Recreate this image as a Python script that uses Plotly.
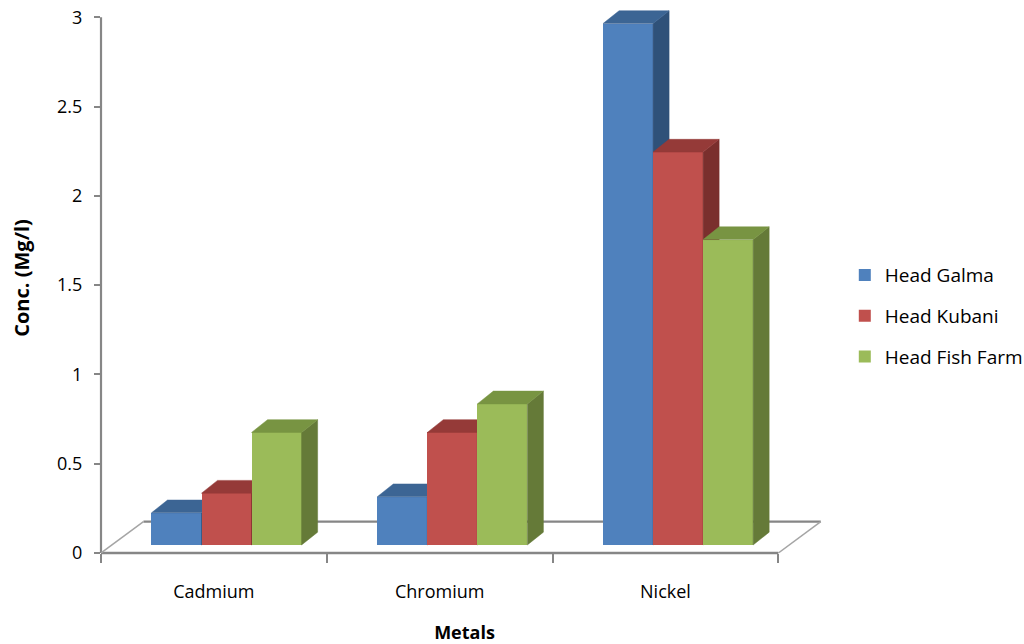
import plotly.graph_objects as go

# ---- data -------------------------------------------------------------
metals = ["Cadmium", "Chromium", "Nickel"]
series_names = ["Head Galma", "Head Kubani", "Head Fish Farm"]
head_galma = [0.18, 0.27, 2.92]
head_kubani = [0.29, 0.63, 2.20]
head_fish_farm = [0.63, 0.79, 1.71]
y_tick_values = [0, 0.5, 1, 1.5, 2, 2.5, 3]
y_tick_labels = ["0", "0.5", "1", "1.5", "2", "2.5", "3"]

series_values = [head_galma, head_kubani, head_fish_farm]

# ---- styling ----------------------------------------------------------
front_colors = ["#4F81BD", "#C0504D", "#9BBB59"]
top_colors = ["#3C6594", "#953A38", "#789442"]
side_colors = ["#2F5179", "#7A2F2D", "#657A38"]
AXIS_GREY = "#868686"
FONT = "Open Sans"

# pseudo-3D geometry, expressed in axis units
X_RANGE = [-0.5, 2.72]
Y_RANGE = [0, 3.08]
FLOOR_LEFT, FLOOR_RIGHT = -0.5, 2.5
FLOOR_DX, FLOOR_DY = 0.188, 0.176      # depth of the floor
BAR_W = 0.2216                         # width of one column
BAR_SHIFT, BAR_LIFT = 0.056, 0.045     # columns stand a little behind the front edge
DEPTH_DX, DEPTH_DY = 0.071, 0.0716     # depth of a column

x_pos = list(range(len(metals)))

fig = go.Figure()


def column_faces(values, offset):
    """Top and right-side faces for one series, as closed polygons."""
    tx, ty, sx, sy = [], [], [], []
    for xc, v in zip(x_pos, values):
        xl = xc + offset
        xr = xl + BAR_W
        yb = BAR_LIFT
        yt = BAR_LIFT + v
        tx += [xl, xr, xr + DEPTH_DX, xl + DEPTH_DX, xl, None]
        ty += [yt, yt, yt + DEPTH_DY, yt + DEPTH_DY, yt, None]
        sx += [xr, xr + DEPTH_DX, xr + DEPTH_DX, xr, xr, None]
        sy += [yb, yb + DEPTH_DY, yt + DEPTH_DY, yt, yb, None]
    return tx, ty, sx, sy


# each series lives on its own overlaid axis pair so that the columns
# further right are painted over the ones to their left
for s, (name, values) in enumerate(zip(series_names, series_values)):
    xa = "x" if s == 0 else f"x{s + 1}"
    ya = "y" if s == 0 else f"y{s + 1}"
    offset = -1.5 * BAR_W + s * BAR_W + BAR_SHIFT

    fig.add_trace(go.Bar(
        x=x_pos, y=values, base=BAR_LIFT, width=BAR_W, offset=offset,
        name=name, legendgroup=name,
        marker=dict(color=front_colors[s], line=dict(width=0)),
        xaxis=xa, yaxis=ya, hoverinfo="skip",
    ))
    tx, ty, sx, sy = column_faces(values, offset)
    fig.add_trace(go.Scatter(
        x=sx, y=sy, mode="lines", fill="toself",
        fillcolor=side_colors[s], line=dict(color=side_colors[s], width=0.5),
        legendgroup=name, showlegend=False, xaxis=xa, yaxis=ya, hoverinfo="skip",
    ))
    fig.add_trace(go.Scatter(
        x=tx, y=ty, mode="lines", fill="toself",
        fillcolor=top_colors[s], line=dict(color=top_colors[s], width=0.5),
        legendgroup=name, showlegend=False, xaxis=xa, yaxis=ya, hoverinfo="skip",
    ))

# floor outline and value axis line
shapes = [
    # back edge of the floor
    dict(type="line", xref="x", yref="y",
         x0=FLOOR_LEFT + FLOOR_DX, x1=FLOOR_RIGHT + FLOOR_DX, y0=FLOOR_DY, y1=FLOOR_DY,
         line=dict(color=AXIS_GREY, width=2.2), layer="below"),
    # side edges of the floor
    dict(type="line", xref="x", yref="y",
         x0=FLOOR_LEFT, x1=FLOOR_LEFT + FLOOR_DX, y0=0, y1=FLOOR_DY,
         line=dict(color="#A5A5A5", width=1.5), layer="below"),
    dict(type="line", xref="x", yref="y",
         x0=FLOOR_RIGHT, x1=FLOOR_RIGHT + FLOOR_DX, y0=0, y1=FLOOR_DY,
         line=dict(color="#A5A5A5", width=1.5), layer="below"),
    # front edge of the floor (category axis line)
    dict(type="line", xref="x", yref="y domain",
         x0=FLOOR_LEFT, x1=FLOOR_RIGHT, y0=0, y1=0,
         line=dict(color=AXIS_GREY, width=2.6), layer="below"),
    # value axis line
    dict(type="line", xref="x domain", yref="y",
         x0=0, x1=0, y0=0, y1=y_tick_values[-1],
         line=dict(color=AXIS_GREY, width=2.2), layer="below"),
]

hidden_axis = dict(visible=False, showgrid=False, zeroline=False)

fig.update_layout(
    width=1024, height=644,
    margin=dict(l=101, r=196, t=3, b=91, autoexpand=False),
    paper_bgcolor="white", plot_bgcolor="white",
    font=dict(family=FONT, size=18, color="#000000"),
    showlegend=True,
    legend=dict(
        xref="container", yref="container", x=0.825, y=0.509,
        xanchor="left", yanchor="middle",
        font=dict(family=FONT, size=19, color="#000000"),
        tracegroupgap=13, traceorder="grouped", bgcolor="rgba(0,0,0,0)",
    ),
    xaxis=dict(
        range=X_RANGE, showgrid=False, zeroline=False, showline=False,
        automargin=False,
        tickmode="array", tickvals=x_pos, ticktext=metals, ticks="",
        ticklabelstandoff=26, tickfont=dict(family=FONT, size=18),
        minor=dict(tickmode="array", tickvals=[-0.5, 0.5, 1.5, 2.5],
                   ticks="outside", ticklen=9, tickwidth=2, tickcolor=AXIS_GREY,
                   showgrid=False),
        title=dict(text="<b>Metals</b>", font=dict(family=FONT, size=18), standoff=35),
        fixedrange=True,
    ),
    yaxis=dict(
        range=Y_RANGE, showgrid=False, zeroline=False, showline=False,
        automargin=False,
        tickmode="array", tickvals=y_tick_values, ticktext=y_tick_labels,
        ticks="outside", ticklen=6, tickwidth=2, tickcolor=AXIS_GREY,
        ticklabelstandoff=8, tickfont=dict(family=FONT, size=18),
        title=dict(text="<b>Conc. (Mg/l)</b>", font=dict(family=FONT, size=20), standoff=22),
        fixedrange=True,
    ),
    xaxis2=dict(range=X_RANGE, overlaying="x", **hidden_axis),
    yaxis2=dict(range=Y_RANGE, overlaying="y", **hidden_axis),
    xaxis3=dict(range=X_RANGE, overlaying="x", **hidden_axis),
    yaxis3=dict(range=Y_RANGE, overlaying="y", **hidden_axis),
    shapes=shapes,
    bargap=0,
)

fig.write_html("out.html")
